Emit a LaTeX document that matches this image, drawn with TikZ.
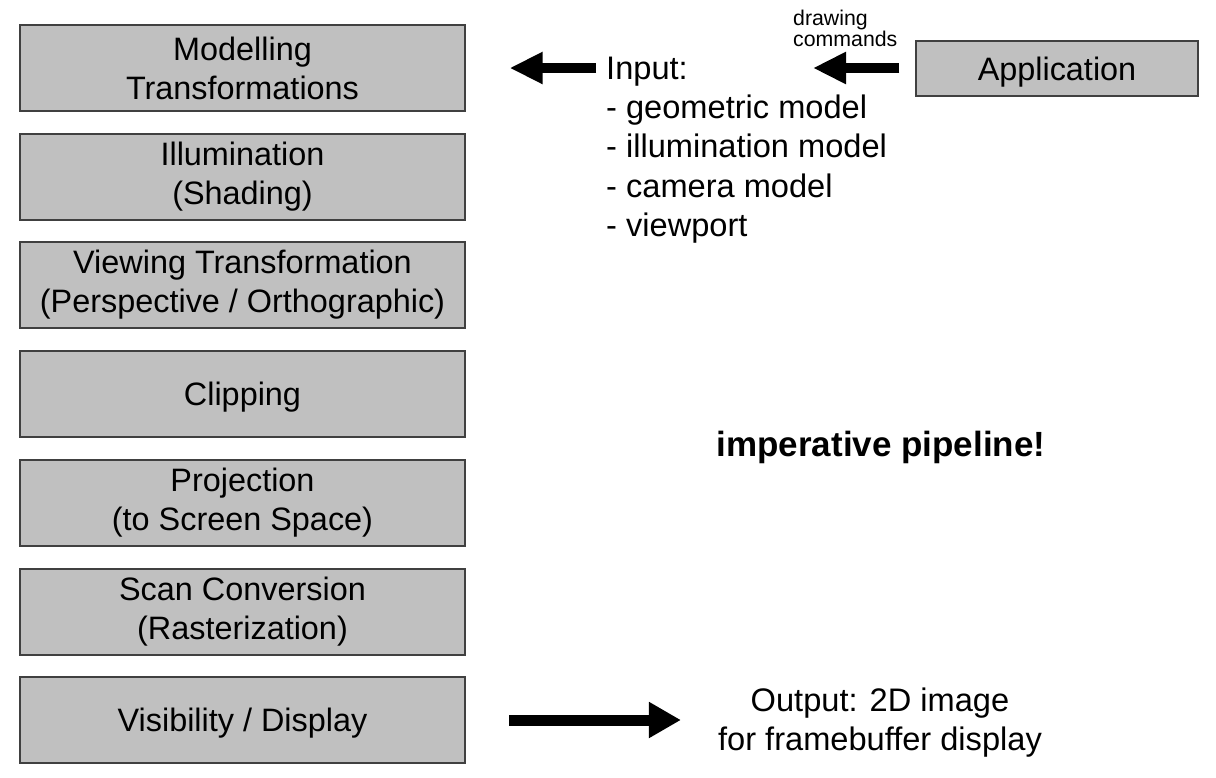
\documentclass[tikz,border=0pt]{standalone}
\usepackage{fontspec}
\setmainfont{Liberation Sans}
\usetikzlibrary{arrows.meta}
\definecolor{boxfill}{RGB}{192,192,192}
\definecolor{boxline}{RGB}{64,64,64}
\begin{document}
\begin{tikzpicture}[x=1pt,y=-1pt,
  stage/.style={draw=boxline, line width=1.3pt, fill=boxfill, minimum width=445pt, minimum height=86pt, align=center, inner sep=0pt, font=\fontsize{32.4}{39}\selectfont, execute at begin node={\rule{0pt}{30.5pt}}},
  appbox/.style={stage, minimum width=282pt, minimum height=55pt},
  intext/.style={anchor=base west, inner sep=0pt, font=\fontsize{32.6}{39}\selectfont},
  bigarrow/.style={line width=10pt, -{Triangle[length=33pt,width=30pt]}},
  bigarrowb/.style={line width=11pt, -{Triangle[length=32pt,width=34pt]}}
]
\useasboundingbox (0,0) rectangle (1216,777);
\node[stage] (m1) at (242.5,68) {Modelling\\Transformations};
\node[stage] (m2) at (242.5,177) {Illumination\\(Shading)};
\node[stage] (m3) at (242.5,285) {Viewing Transformation\\(Perspective / Orthographic)};
\node[stage] (m4) at (242.5,394) {Clipping};
\node[stage] (m5) at (242.5,503) {Projection\\(to Screen Space)};
\node[stage] (m6) at (242.5,612) {Scan Conversion\\(Rasterization)};
\node[stage] (m7) at (242.5,720) {Visibility / Display};
\node[appbox] (app) at (1057,68.5) {Application};

\node[intext] (inp) at (606,79) {Input:};
\node[intext] (l1) at (606,118) {- geometric model};
\node[intext] (l2) at (606,157.5) {- illumination model};
\node[intext] (l3) at (606,197) {- camera model};
\node[intext] (l4) at (606,236) {- viewport};

\node[anchor=west, align=left, inner sep=0pt, font=\fontsize{21.3}{21}\selectfont] (dc) at (793,28) {drawing\\commands};

\node[font=\bfseries\fontsize{35}{39}\selectfont, inner sep=0pt] (imp) at (881,447) {imperative pipeline!};

\node[align=center, inner sep=0pt, font=\fontsize{32.6}{39}\selectfont] (out) at (880,723) {Output: 2D image\\for framebuffer display};

\coordinate (a1s) at (596,68);
\coordinate (a2e) at (813,68);
\coordinate (a3s) at (509,720);
\draw[bigarrow, shorten >=44pt] (a1s) -- (m1.east |- a1s);
\draw[bigarrow, shorten <=16pt] (app.west |- a2e) -- (a2e);
\draw[bigarrowb, shorten >=37pt] (a3s) -- (out.west |- a3s);
\end{tikzpicture}
\end{document}
